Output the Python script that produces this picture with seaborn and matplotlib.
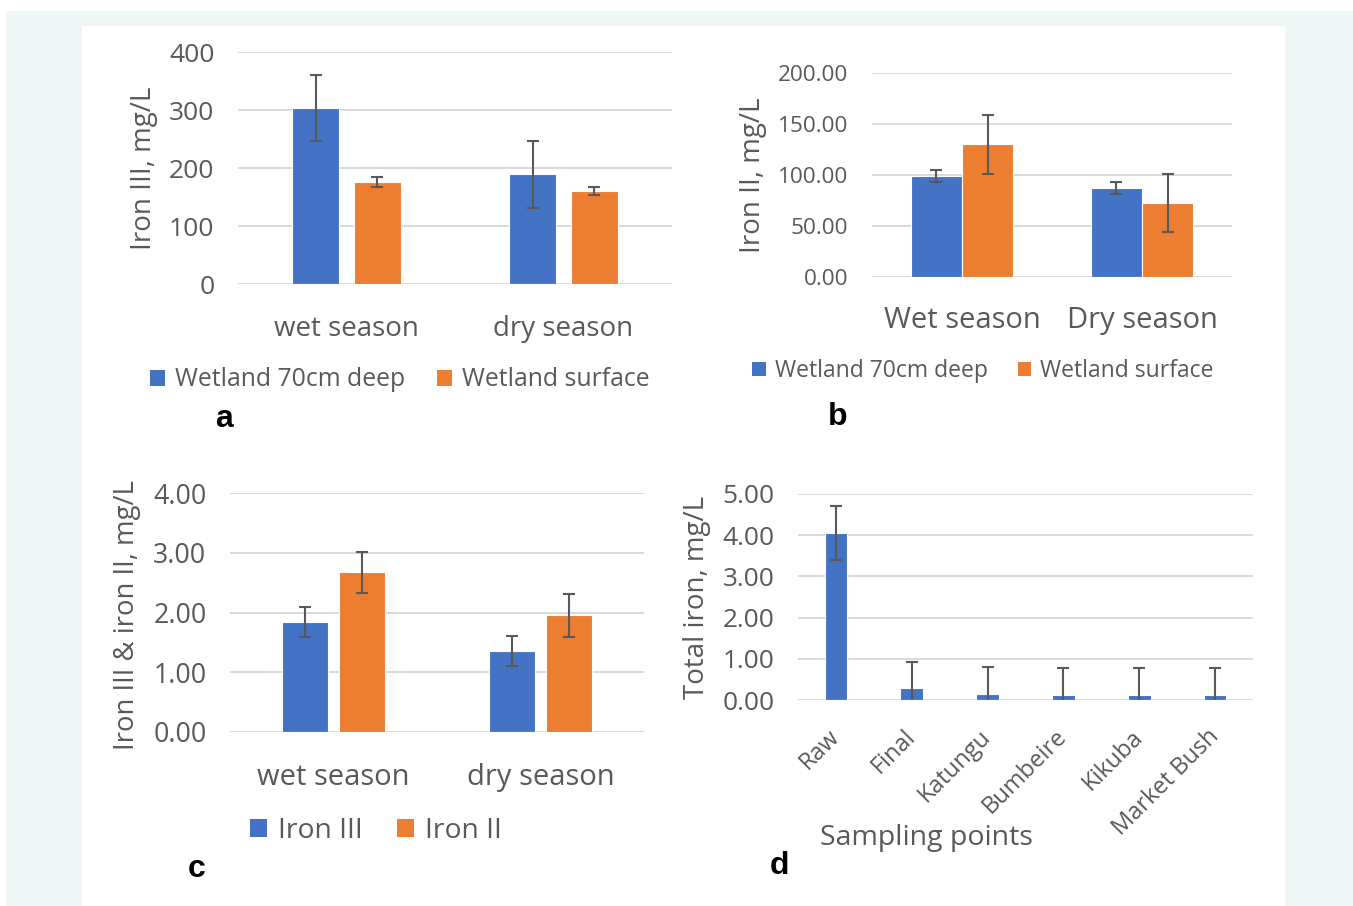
import numpy as np
import pandas as pd
import seaborn as sns
import matplotlib.pyplot as plt
from matplotlib.patches import Rectangle, Patch
from matplotlib.ticker import FormatStrFormatter

# ---- data ----
seasons_a = ["wet season", "dry season"]
series_a = ["Wetland 70cm deep", "Wetland surface"]
deep_a = [304, 189]
surface_a = [176, 161]
deep_a_err = [57, 58]
surface_a_err = [8, 7]

seasons_b = ["Wet season", "Dry season"]
series_b = ["Wetland 70cm deep", "Wetland surface"]
deep_b = [99, 87]
surface_b = [130, 72.5]
deep_b_err = [5.5, 6]
surface_b_err = [29, 28.5]

seasons_c = ["wet season", "dry season"]
series_c = ["Iron III", "Iron II"]
iron3_c = [1.84, 1.36]
iron2_c = [2.67, 1.95]
iron3_c_err = [0.25, 0.25]
iron2_c_err = [0.35, 0.36]

points_d = ["Raw", "Final", "Katungu", "Bumbeire", "Kikuba", "Market Bush"]
total_d = [4.05, 0.28, 0.15, 0.11, 0.11, 0.11]
total_d_err = [0.66, 0.64, 0.66, 0.67, 0.67, 0.67]

BLUE = "#4472c4"
ORANGE = "#ed7d31"
TXT = "#595959"
GRID = "#d9d9d9"

sns.set_theme(style="white")
plt.rcParams["font.family"] = ["Open Sans", "DejaVu Sans"]

W, H = 1353, 906
fig = plt.figure(figsize=(W / 100, H / 100), dpi=100)
fig.patch.set_facecolor("white")

# page background: light frame with white panel
fig.patches.append(Rectangle((6 / W, 0), 1 - 6 / W, 1 - 11 / H, transform=fig.transFigure,
                             facecolor="#eef6f6", edgecolor="none", zorder=-10))
fig.patches.append(Rectangle((82 / W, 0), (1285 - 82) / W, 1 - 26 / H, transform=fig.transFigure,
                             facecolor="white", edgecolor="none", zorder=-9))


def px_axes(x0, y0, x1, y1):
    # axes from pixel box (top-left origin)
    return fig.add_axes([x0 / W, 1 - y1 / H, (x1 - x0) / W, (y1 - y0) / H])


def style_axis(ax, n, ymax, step, fmt, ytick_size, xtick_size, xpad=20):
    ax.set_xlim(-0.5, n - 0.5)
    ax.set_ylim(0, ymax)
    ax.set_yticks(np.arange(0, ymax + step / 2, step))
    if fmt:
        ax.yaxis.set_major_formatter(FormatStrFormatter(fmt))
    ax.yaxis.grid(True, color=GRID, lw=1.4)
    ax.xaxis.grid(False)
    ax.set_axisbelow(True)
    sns.despine(ax=ax, left=True, bottom=True)
    ax.tick_params(axis="y", length=0, pad=17, labelsize=ytick_size, labelcolor=TXT)
    ax.tick_params(axis="x", length=0, pad=xpad, labelsize=xtick_size, labelcolor=TXT)
    ax.set_xlabel("")


def add_errors(ax, errs):
    for cont, err in zip(ax.containers, errs):
        xs = [b.get_x() + b.get_width() / 2 for b in cont]
        ys = [b.get_height() for b in cont]
        ax.errorbar(xs, ys, yerr=err, fmt="none", ecolor=TXT, elinewidth=1.5,
                    capsize=4.5, capthick=1.5, zorder=5)


def grouped(ax, cats, names, first, second, width, gap):
    df = pd.DataFrame({
        "cat": cats * 2,
        "series": [names[0]] * len(cats) + [names[1]] * len(cats),
        "value": list(first) + list(second),
    })
    sns.barplot(data=df, x="cat", y="value", hue="series", hue_order=names,
                palette=[BLUE, ORANGE], saturation=1, width=width, gap=gap,
                errorbar=None, legend=False, edgecolor="white", linewidth=0.8, ax=ax)


def legend_at(names, x, y, size, colsp):
    handles = [Patch(facecolor=BLUE, edgecolor="none"), Patch(facecolor=ORANGE, edgecolor="none")]
    leg = fig.legend(handles, names, loc="center", bbox_to_anchor=(x / W, 1 - y / H), ncol=2,
                     frameon=False, fontsize=size, handlelength=0.6, handleheight=0.6,
                     handletextpad=0.4, columnspacing=colsp, labelcolor=TXT)
    return leg


def panel_letter(x, y, s):
    fig.text(x / W, 1 - y / H, s, ha="center", va="center", fontsize=23,
             fontweight="bold", family="Liberation Sans", color="black")


# ---- panel a ----
ax_a = px_axes(238, 52, 672, 284)
grouped(ax_a, seasons_a, series_a, deep_a, surface_a, 0.571, 0.226)
add_errors(ax_a, [deep_a_err, surface_a_err])
style_axis(ax_a, 2, 400, 100, None, 19, 20, xpad=22)
ax_a.set_ylabel("Iron III, mg/L", fontsize=20, color=TXT)
ax_a.yaxis.set_label_coords(-0.185, 0.5)
legend_at(series_a, 400, 380, 17.8, 1.3)
panel_letter(224, 419, "a")

# ---- panel b ----
ax_b = px_axes(872, 73, 1232, 277)
grouped(ax_b, seasons_b, series_b, deep_b, surface_b, 0.567, 0.0)
add_errors(ax_b, [deep_b_err, surface_b_err])
style_axis(ax_b, 2, 200, 50, "%.2f", 16.2, 21, xpad=21)
ax_b.set_ylabel("Iron II, mg/L", fontsize=20, color=TXT)
ax_b.yaxis.set_label_coords(-0.293, 0.5)
legend_at(series_b, 983, 371, 16.5, 1.3)
panel_letter(838, 417, "b")

# ---- panel c ----
ax_c = px_axes(230, 493, 644, 732)
grouped(ax_c, seasons_c, series_c, iron3_c, iron2_c, 0.56, 0.207)
add_errors(ax_c, [iron3_c_err, iron2_c_err])
style_axis(ax_c, 2, 4, 1, "%.2f", 19.3, 21, xpad=22)
ax_c.set_ylabel("Iron III & iron II, mg/L", fontsize=19.8, color=TXT)
ax_c.yaxis.set_label_coords(-0.215, 0.49)
legend_at(series_c, 376, 831, 20.3, 1.2)
panel_letter(197, 869, "c")

# ---- panel d ----
ax_d = px_axes(798, 494, 1253, 700)
sns.barplot(x=points_d, y=total_d, color=BLUE, saturation=1, width=0.3,
            errorbar=None, edgecolor="white", linewidth=0.8, ax=ax_d)
add_errors(ax_d, [total_d_err])
style_axis(ax_d, len(points_d), 5, 1, "%.2f", 18.9, 17, xpad=24)
for lab in ax_d.get_xticklabels():
    lab.set_rotation(45)
    lab.set_ha("right")
    lab.set_va("center")
    lab.set_rotation_mode("anchor")
ax_d.set_ylabel("Total iron, mg/L", fontsize=20, color=TXT)
ax_d.yaxis.set_label_coords(-0.192, 0.5)
ax_d.set_xlabel("Sampling points", fontsize=20.5, color=TXT)
ax_d.xaxis.set_label_coords(0.283, -0.6)
panel_letter(779, 866, "d")

fig.savefig("out.png", dpi=100, facecolor=fig.get_facecolor())
